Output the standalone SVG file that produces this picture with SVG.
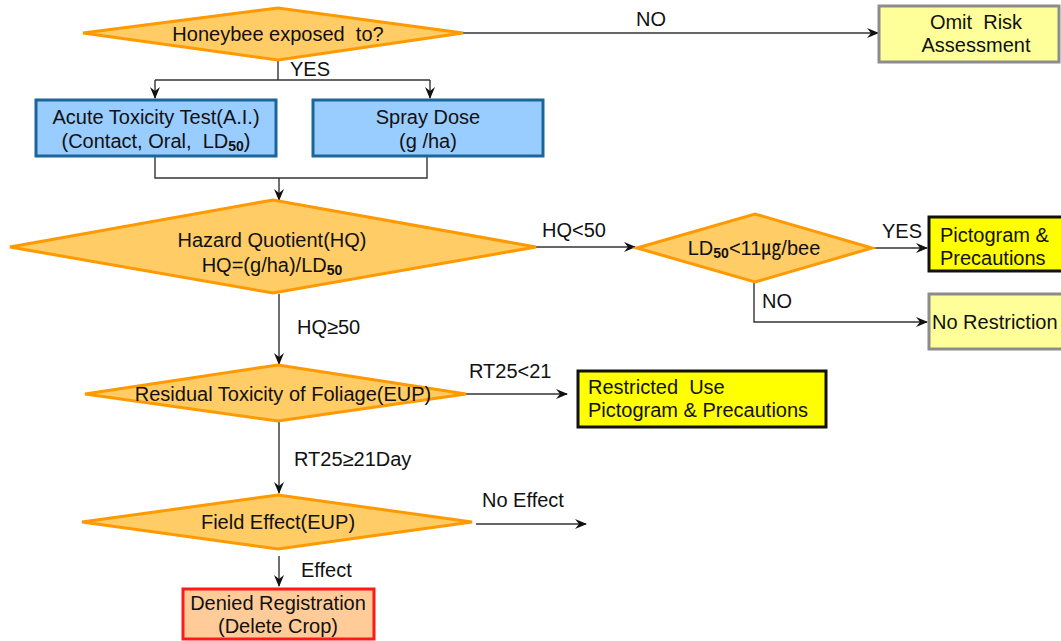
<svg xmlns="http://www.w3.org/2000/svg" width="1061" height="641" viewBox="0 0 1061 641">
<style>
text{font-family:"Liberation Sans","Noto Sans CJK KR",sans-serif;font-size:20px;fill:#111;white-space:pre}
.c{text-anchor:middle}
.dia{fill:#ffcc66;stroke:#ff9900;stroke-width:3}
.blue{fill:#99ccff;stroke:#1a6699;stroke-width:3}
.pale{fill:#ffff99;stroke:#8c8c8c;stroke-width:3}
.yel{fill:#ffff00;stroke:#111;stroke-width:3}
.red{fill:#ffcc99;stroke:#ff1a1a;stroke-width:3}
.ln{fill:none;stroke:#333;stroke-width:1.4}
.sub{font-size:14px;font-weight:bold}
</style>
<defs>
<marker id="ar" viewBox="0 0 12 10" refX="11" refY="5" markerWidth="12" markerHeight="10" markerUnits="userSpaceOnUse" orient="auto">
<path d="M0,0 L12,5 L0,10 L4,5 Z" fill="#111"/>
</marker>
</defs>
<g id="connectors">
<path class="ln" d="M463,33 H878" marker-end="url(#ar)"/>
<path class="ln" d="M278,60 V80"/>
<path class="ln" d="M155,80 H430"/>
<path class="ln" d="M155,80 V98" marker-end="url(#ar)"/>
<path class="ln" d="M430,80 V98" marker-end="url(#ar)"/>
<path class="ln" d="M155,157 V178 H427 V157"/>
<path class="ln" d="M279,178 V200" marker-end="url(#ar)"/>
<path class="ln" d="M536,247 H635" marker-end="url(#ar)"/>
<path class="ln" d="M872,248 H927" marker-end="url(#ar)"/>
<path class="ln" d="M754,282 V322 H927" marker-end="url(#ar)"/>
<path class="ln" d="M279,294 V364" marker-end="url(#ar)"/>
<path class="ln" d="M466,394 H567" marker-end="url(#ar)"/>
<path class="ln" d="M279,421 V493" marker-end="url(#ar)"/>
<path class="ln" d="M476,524 H586" marker-end="url(#ar)"/>
<path class="ln" d="M279,556 V586" marker-end="url(#ar)"/>
<text x="636" y="26">NO</text>
<text x="290" y="76">YES</text>
<text x="542" y="237">HQ&lt;50</text>
<text x="882" y="238">YES</text>
<text x="762" y="308">NO</text>
<text x="297" y="334">HQ≥50</text>
<text x="469" y="378">RT25&lt;21</text>
<text x="294" y="466">RT25≥21Day</text>
<text x="482" y="507">No Effect</text>
<text x="301" y="577">Effect</text>
</g>
<g id="n_exposed">
<polygon class="dia" points="83,33 278,8 463,33 278,60"/>
<text class="c" x="278" y="41">Honeybee exposed&#160; to?</text>
</g>
<g id="n_omit">
<rect class="pale" x="879" y="6" width="180" height="56"/>
<text class="c" x="976" y="29">Omit&#160; Risk</text>
<text class="c" x="976" y="52">Assessment</text>
</g>
<g id="n_acute">
<rect class="blue" x="36" y="100" width="240" height="56"/>
<text class="c" x="156" y="124">Acute Toxicity Test(A.I.)</text>
<text class="c" x="156" y="148">(Contact, Oral,&#160; LD<tspan class="sub" dy="3">50</tspan><tspan dy="-3">)</tspan></text>
</g>
<g id="n_spray">
<rect class="blue" x="313" y="100" width="230" height="56"/>
<text class="c" x="428" y="124">Spray Dose</text>
<text class="c" x="428" y="148">(g /ha)</text>
</g>
<g id="n_hq">
<polygon class="dia" points="10,247 273,200 536,247 273,293"/>
<text class="c" x="272" y="247">Hazard Quotient(HQ)</text>
<text class="c" x="272" y="272">HQ=(g/ha)/LD<tspan class="sub" dy="3">50</tspan></text>
</g>
<g id="n_ld50">
<polygon class="dia" points="637,248 755,214 872,248 755,282"/>
<text class="c" x="754" y="255">LD<tspan class="sub" dy="3">50</tspan><tspan dy="-3">&lt;11㎍/bee</tspan></text>
</g>
<g id="n_picto">
<rect class="yel" x="929" y="217" width="140" height="54"/>
<text x="940" y="242">Pictogram &amp;</text>
<text x="940" y="265">Precautions</text>
</g>
<g id="n_norestr">
<rect class="pale" x="929" y="294" width="140" height="55"/>
<text x="932" y="329">No Restriction</text>
</g>
<g id="n_residual">
<polygon class="dia" points="85,394 278,365 466,394 278,421"/>
<text class="c" x="283" y="401">Residual Toxicity of Foliage(EUP)</text>
</g>
<g id="n_restricted">
<rect class="yel" x="578" y="371" width="248" height="56"/>
<text x="588" y="394">Restricted&#160; Use</text>
<text x="588" y="417">Pictogram &amp; Precautions</text>
</g>
<g id="n_field">
<polygon class="dia" points="82,522 278,495 472,522 278,549"/>
<text class="c" x="278" y="529">Field Effect(EUP)</text>
</g>
<g id="n_denied">
<rect class="red" x="183" y="589" width="191" height="50"/>
<text class="c" x="278" y="610">Denied Registration</text>
<text class="c" x="278" y="633">(Delete Crop)</text>
</g>
</svg>
